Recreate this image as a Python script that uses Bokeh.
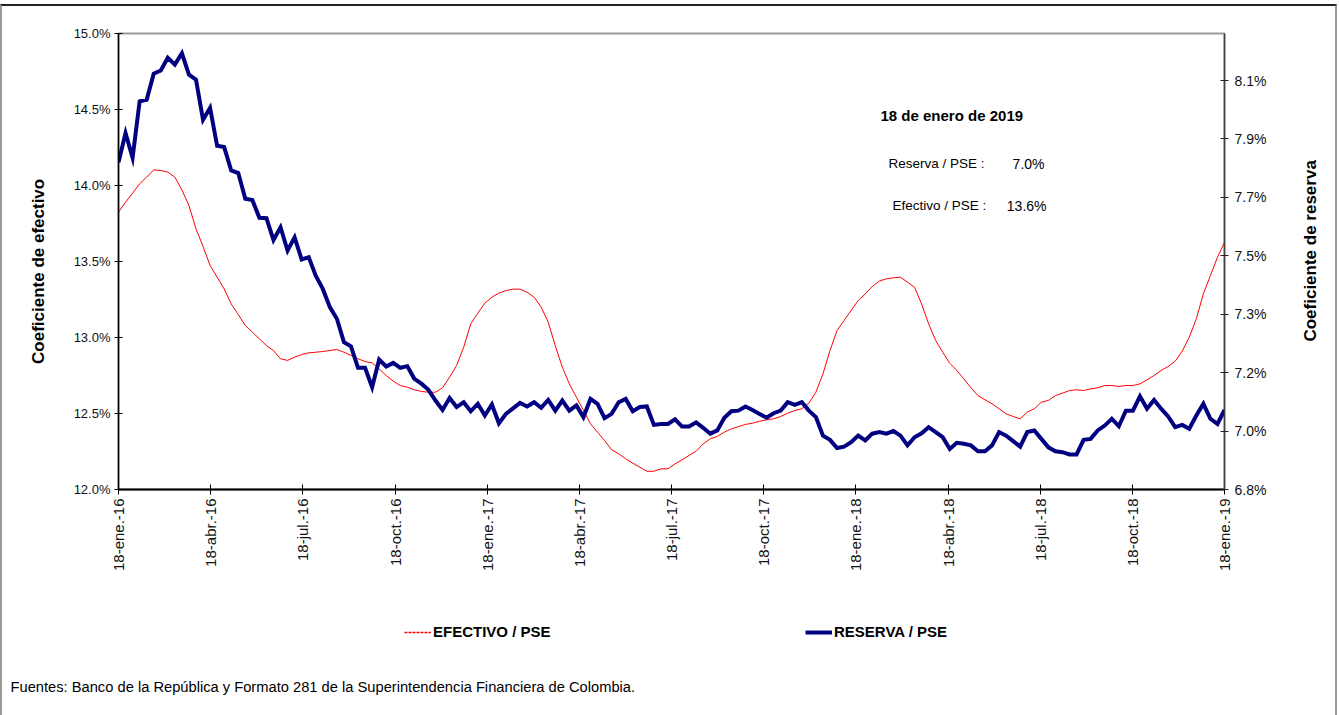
import numpy as np
from math import pi
from bokeh.plotting import figure
from bokeh.layouts import row, column
from bokeh.models import (Range1d, LinearAxis, FixedTicker, Label, Legend, LegendItem,
                          ColumnDataSource, PrintfTickFormatter, InlineStyleSheet)
from bokeh.embed import file_html
from bokeh.resources import INLINE

# ---------------- data (weekly, 18-ene-16 .. 18-ene-19) ----------------
efectivo = [
    13.825, 13.890, 13.950, 14.011, 14.055, 14.103, 14.099, 14.088, 14.055, 13.971,
    13.868, 13.715, 13.599, 13.474, 13.397, 13.320, 13.221, 13.151, 13.079, 13.035,
    12.991, 12.947, 12.914, 12.860, 12.849, 12.871, 12.888, 12.899, 12.903, 12.908,
    12.914, 12.921, 12.903, 12.882, 12.860, 12.842, 12.833, 12.794, 12.750, 12.713,
    12.684,
    12.673, 12.656, 12.645, 12.640, 12.640, 12.669, 12.739, 12.816, 12.936, 13.090,
    13.160, 13.226, 13.265, 13.292, 13.309, 13.318, 13.318, 13.298, 13.265, 13.200,
    13.101, 12.947, 12.805, 12.695, 12.607, 12.520, 12.432, 12.377, 12.322, 12.261,
    12.235, 12.202, 12.173, 12.147, 12.120, 12.120, 12.136, 12.136, 12.169,
    12.195, 12.224, 12.252, 12.300, 12.333, 12.349, 12.377, 12.399, 12.414, 12.428,
    12.436, 12.449, 12.458, 12.465, 12.480, 12.502, 12.520, 12.531, 12.568, 12.640,
    12.761, 12.914, 13.046, 13.112, 13.178, 13.243, 13.287, 13.336, 13.371, 13.386,
    13.393, 13.397, 13.364, 13.331, 13.221, 13.090, 12.980, 12.903, 12.831,
    12.783, 12.728, 12.669, 12.618, 12.590, 12.564, 12.531, 12.498, 12.480, 12.465,
    12.509, 12.531, 12.574, 12.586, 12.618, 12.634, 12.651, 12.656, 12.651, 12.662,
    12.669, 12.684, 12.684, 12.678, 12.684, 12.684, 12.695, 12.722, 12.750, 12.783,
    12.809, 12.844, 12.910, 13.002, 13.123, 13.287, 13.408, 13.528, 13.627,
]
reserva = [
    7.808, 7.898, 7.822, 7.996, 8.001, 8.081, 8.091, 8.130, 8.109, 8.144,
    8.078, 8.063, 7.939, 7.976, 7.859, 7.855, 7.783, 7.775, 7.696, 7.692,
    7.637, 7.636, 7.569, 7.608, 7.536, 7.577, 7.509, 7.516, 7.459, 7.418,
    7.362, 7.326, 7.254, 7.241, 7.175, 7.175, 7.115, 7.200, 7.179, 7.190,
    7.175,
    7.180, 7.141, 7.126, 7.107, 7.074, 7.045, 7.082, 7.054, 7.069, 7.041,
    7.064, 7.028, 7.062, 7.004, 7.033, 7.050, 7.067, 7.056, 7.069, 7.052,
    7.076, 7.043, 7.074, 7.043, 7.059, 7.023, 7.079, 7.064, 7.020, 7.033,
    7.069, 7.079, 7.041, 7.054, 7.056, 6.999, 7.002, 7.002, 7.016,
    6.994, 6.994, 7.007, 6.990, 6.972, 6.982, 7.021, 7.041, 7.043, 7.056,
    7.045, 7.033, 7.021, 7.035, 7.043, 7.069, 7.061, 7.069, 7.043, 7.023,
    6.966, 6.953, 6.928, 6.932, 6.946, 6.966, 6.951, 6.972, 6.977, 6.972,
    6.980, 6.966, 6.936, 6.961, 6.973, 6.992, 6.977, 6.961, 6.925,
    6.944, 6.941, 6.936, 6.918, 6.918, 6.936, 6.977, 6.966, 6.949, 6.932,
    6.977, 6.982, 6.956, 6.930, 6.918, 6.915, 6.908, 6.908, 6.953, 6.956,
    6.982, 6.997, 7.018, 6.995, 7.043, 7.043, 7.087, 7.049, 7.076, 7.049,
    7.025, 6.992, 6.999, 6.987, 7.028, 7.064, 7.018, 7.002, 7.045,
]
date_labels = ["18-ene.-16", "18-abr.-16", "18-jul.-16", "18-oct.-16",
               "18-ene.-17", "18-abr.-17", "18-jul.-17", "18-oct.-17",
               "18-ene.-18", "18-abr.-18", "18-jul.-18", "18-oct.-18",
               "18-ene.-19"]
efectivo_ticks = [12.0, 12.5, 13.0, 13.5, 14.0, 14.5, 15.0]
reserva_ticks = [6.8, 6.98, 7.16, 7.34, 7.52, 7.70, 7.88, 8.06]
reserva_tick_labels = ["6.8%", "7.0%", "7.2%", "7.3%", "7.5%", "7.7%", "7.9%", "8.1%"]

N = len(efectivo)
x = list(range(N))

FONT = "Liberation Sans"
TXT = "#111111"

# page geometry (pixels from the top-left of the picture)
LEFT_W, RIGHT_W = 60, 59
TOTAL_W, TOP_H, BOT_H = 1339, 600, 115
MAIN_W = TOTAL_W - LEFT_W - RIGHT_W            # 1220
MAIN_X0 = LEFT_W
F_L, F_R, F_T, F_B = 118, 1224, 33, 489        # plot-area edges


def dx(px):   # picture pixel -> x data (main figure)
    return (px - F_L) * (N - 1) / (F_R - F_L)


def dy(py):   # picture pixel -> left-axis data (main figure)
    return 12 + (F_B - py) * 3.0 / (F_B - F_T)


def blank(w, h):
    f = figure(width=w, height=h, output_backend="svg", toolbar_location=None,
               x_range=Range1d(0, w), y_range=Range1d(0, h), min_border=0,
               x_axis_type=None, y_axis_type=None)
    f.outline_line_color = None
    f.background_fill_color = "white"
    f.border_fill_color = "white"
    return f


# ---------------- main plot ----------------
p = figure(width=MAIN_W, height=TOP_H, output_backend="svg", toolbar_location=None,
           x_range=Range1d(0, N - 1), y_range=Range1d(12, 15),
           min_border_left=F_L - MAIN_X0, min_border_right=MAIN_W - (F_R - MAIN_X0),
           min_border_top=F_T, min_border_bottom=TOP_H - F_B)
p.extra_y_ranges = {"res": Range1d(6.8, 8.205)}
p.grid.visible = False
p.outline_line_color = "#9a9a9a"
p.outline_line_width = 2
p.background_fill_color = "white"
p.border_fill_color = "white"

ya = p.yaxis[0]
ya.ticker = FixedTicker(ticks=efectivo_ticks)
ya.formatter = PrintfTickFormatter(format="%.1f%%")
ya.axis_line_color = "black"
ya.axis_line_width = 1.5
ya.major_tick_in = 4
ya.major_tick_out = 4
ya.major_tick_line_color = "black"
ya.minor_tick_line_color = None
ya.major_label_text_font = FONT
ya.major_label_text_font_size = "13px"
ya.major_label_text_color = TXT
ya.major_label_standoff = 4

xa = p.xaxis[0]
xticks = [i * (N - 1) / 12 for i in range(13)]
xa.ticker = FixedTicker(ticks=xticks)
xa.major_label_overrides = {t: lab for t, lab in zip(xticks, date_labels)}
xa.major_label_orientation = pi / 2
xa.axis_line_color = "black"
xa.axis_line_width = 2
xa.major_tick_in = 5
xa.major_tick_out = 5
xa.major_tick_line_color = "black"
xa.minor_tick_line_color = None
xa.major_label_text_font = FONT
xa.major_label_text_font_size = "15px"
xa.major_label_text_color = TXT
xa.major_label_standoff = 4

ra = LinearAxis(y_range_name="res", ticker=FixedTicker(ticks=reserva_ticks))
ra.major_label_overrides = {t: lab for t, lab in zip(reserva_ticks, reserva_tick_labels)}
ra.axis_line_color = "#444444"
ra.axis_line_width = 1.5
ra.major_tick_in = 4
ra.major_tick_out = 4
ra.major_tick_line_color = "#222222"
ra.minor_tick_line_color = None
ra.major_label_text_font = FONT
ra.major_label_text_font_size = "14px"
ra.major_label_text_color = TXT
ra.major_label_standoff = 6
p.add_layout(ra, "right")

src = ColumnDataSource(dict(x=x, efectivo=efectivo, reserva=reserva))
p.line("x", "efectivo", source=src, line_color="#FF0000", line_width=1)
p.line("x", "reserva", source=src, y_range_name="res",
       line_color="#000080", line_width=4, line_join="miter")

# annotation box (inside plot area)
p.add_layout(Label(x=dx(880), y=dy(115), text="18 de enero de 2019",
                   text_font=FONT, text_font_style="bold", text_font_size="15px",
                   text_baseline="middle", text_color="black"))
p.add_layout(Label(x=dx(888), y=dy(163), text="Reserva / PSE :",
                   text_font=FONT, text_font_size="13.5px",
                   text_baseline="middle", text_color="black"))
p.add_layout(Label(x=dx(1044), y=dy(163), text="7.0%", text_align="right",
                   text_font=FONT, text_font_size="14px",
                   text_baseline="middle", text_color="black"))
p.add_layout(Label(x=dx(892), y=dy(205), text="Efectivo / PSE  :",
                   text_font=FONT, text_font_size="13.5px",
                   text_baseline="middle", text_color="black"))
p.add_layout(Label(x=dx(1046), y=dy(205), text="13.6%", text_align="right",
                   text_font=FONT, text_font_size="14px",
                   text_baseline="middle", text_color="black"))

# ---------------- left title ----------------
lf = blank(LEFT_W, TOP_H)
lf.add_layout(Label(x=38, y=TOP_H - 313, text="Coeficiente de efectivo",
                    angle=pi / 2, text_font=FONT, text_font_style="bold",
                    text_font_size="17px", text_align="center", text_baseline="middle",
                    text_color="black"))

# ---------------- right title ----------------
rf = blank(RIGHT_W, TOP_H)
rx0 = LEFT_W + MAIN_W
rf.add_layout(Label(x=1310 - rx0, y=TOP_H - 286, text="Coeficiente de reserva",
                    angle=pi / 2, text_font=FONT, text_font_style="bold",
                    text_font_size="17px", text_align="center", text_baseline="middle",
                    text_color="black"))

# ---------------- bottom: legend + source ----------------
bf = blank(TOTAL_W, BOT_H)
bf.extra_y_ranges = {"hide": Range1d(100, 200)}   # legend proxies drawn off-canvas
leg_ef = bf.line("x", "efectivo", source=src, y_range_name="hide",
                 line_color="#FF0000", line_width=1.5, line_dash="3 1")
leg_res = bf.line("x", "reserva", source=src, y_range_name="hide",
                  line_color="#000080", line_width=4)
by0 = TOP_H
common = dict(orientation="horizontal", border_line_alpha=0, background_fill_alpha=0,
              glyph_width=27, glyph_height=14, label_standoff=2, padding=0, margin=0,
              label_text_font=FONT, label_text_font_style="bold",
              label_text_font_size="15px", label_text_color="black")
bf.add_layout(Legend(items=[LegendItem(label="EFECTIVO / PSE", renderers=[leg_ef])],
                     location=(404, BOT_H - (640 - by0)), **common))
bf.add_layout(Legend(items=[LegendItem(label="RESERVA / PSE", renderers=[leg_res])],
                     location=(805, BOT_H - (640 - by0)), **common))
bf.add_layout(Label(x=10, y=BOT_H - (686 - by0),
                    text="Fuentes:  Banco de la República y Formato 281 de la Superintendencia  Financiera de Colombia.",
                    text_font=FONT, text_font_size="14.7px",
                    text_baseline="middle", text_color="black"))

frame_css = InlineStyleSheet(css="""
:host { position: relative; }
:host::after {
  content: ""; position: absolute; z-index: 100; pointer-events: none;
  left: 0px; top: 4px; right: 2px; bottom: 0px;
  border-top: 2px solid #222222;
  border-left: 2px solid #999999;
  border-right: 2px solid #999999;
}
""")
layout = column(row(lf, p, rf), bf, stylesheets=[frame_css])

open("out.html", "w").write(file_html(layout, INLINE))
